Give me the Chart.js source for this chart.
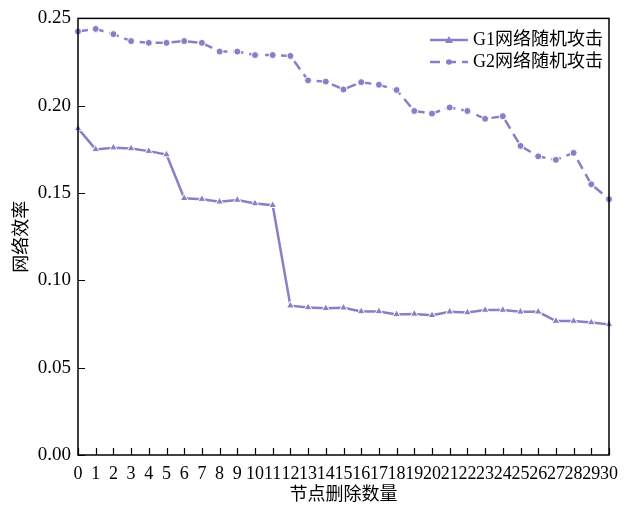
<!DOCTYPE html>
<html>
<head>
<meta charset="utf-8">
<script src="https://cdn.jsdelivr.net/npm/chart.js@4.4.1/dist/chart.umd.min.js"></script>
<style>
  html, body { margin: 0; padding: 0; background: #fff; }
  #wrap { width: 626px; height: 508px; }
</style>
</head>
<body>
<div id="wrap"><canvas id="grafico"></canvas></div>
<script>
// datos del gráfico
const etiquetas = Array.from({ length: 31 }, (_, i) => String(i));
const g1 = [0.187, 0.175, 0.176, 0.1755, 0.174, 0.172, 0.147, 0.1465, 0.145, 0.146, 0.144, 0.143,
            0.0855, 0.0845, 0.084, 0.0843, 0.0822, 0.0822, 0.0805, 0.0808, 0.080, 0.082, 0.0816,
            0.083, 0.083, 0.082, 0.082, 0.0767, 0.0767, 0.0759, 0.0748];
const g2 = [0.2425, 0.244, 0.241, 0.237, 0.236, 0.236, 0.237, 0.236, 0.231, 0.231, 0.229, 0.229,
            0.2285, 0.2145, 0.2138, 0.2093, 0.2135, 0.212, 0.209, 0.197, 0.1955, 0.199, 0.197,
            0.1925, 0.194, 0.177, 0.171, 0.169, 0.173, 0.155, 0.1465];
const ticksY = [0, 0.05, 0.10, 0.15, 0.20, 0.25];
const nombres = ["G1网络随机攻击", "G2网络随机攻击"];

const color = "#8a7fc6";
const fuente = '"Liberation Serif", "Noto Sans CJK SC", serif';

// marco, ticks hacia dentro y leyenda
const marcoPlugin = {
    id: "marco",
    afterDraw(chart) {
        const ctx = chart.ctx;
        const a = chart.chartArea;
        const x = chart.scales.x, y = chart.scales.y;
        ctx.save();
        ctx.strokeStyle = "#000";
        ctx.lineWidth = 1.5;
        ctx.strokeRect(a.left, a.top, a.right - a.left, a.bottom - a.top);
        ctx.lineWidth = 1.2;
        ctx.beginPath();
        x.ticks.forEach((t, i) => {
            const px = Math.round(x.getPixelForTick(i)) + 0.5;
            ctx.moveTo(px, a.bottom);
            ctx.lineTo(px, a.bottom - 7);
        });
        y.ticks.forEach((t, i) => {
            const py = Math.round(y.getPixelForTick(i)) + 0.5;
            ctx.moveTo(a.left, py);
            ctx.lineTo(a.left + 7, py);
        });
        ctx.stroke();

        // leyenda
        const lx = 430, ly = [40, 62];
        chart.data.datasets.forEach((ds, i) => {
            ctx.strokeStyle = color;
            ctx.lineWidth = 2.5;
            ctx.setLineDash(ds.borderDash || []);
            ctx.beginPath();
            ctx.moveTo(lx, ly[i]);
            ctx.lineTo(lx + 38, ly[i]);
            ctx.stroke();
            ctx.setLineDash([]);
            ctx.fillStyle = color;
            ctx.beginPath();
            if (ds.pointStyle === "triangle") {
                ctx.moveTo(lx + 19, ly[i] - 4);
                ctx.lineTo(lx + 23, ly[i] + 3);
                ctx.lineTo(lx + 15, ly[i] + 3);
                ctx.closePath();
            } else {
                ctx.arc(lx + 19, ly[i], 2.8, 0, Math.PI * 2);
            }
            ctx.fill();
            ctx.fillStyle = "#000";
            ctx.font = "18px " + fuente;
            ctx.textBaseline = "middle";
            ctx.textAlign = "left";
            ctx.fillText(ds.label, lx + 43, ly[i]);
        });
        ctx.restore();
    }
};

new Chart(document.getElementById("grafico").getContext("2d"), {
    type: "line",
    data: {
        labels: etiquetas,
        datasets: [{
            label: nombres[0],
            data: g1,
            borderColor: color,
            backgroundColor: color,
            borderWidth: 2.5,
            pointStyle: "triangle",
            pointRadius: 4.5,
            pointBorderColor: "#fff",
            pointBorderWidth: 1,
            pointBackgroundColor: color,
            tension: 0
        }, {
            label: nombres[1],
            data: g2,
            borderColor: color,
            backgroundColor: color,
            borderWidth: 2.5,
            borderDash: [10, 6],
            pointStyle: "circle",
            pointRadius: 3.5,
            pointBorderColor: "#fff",
            pointBorderWidth: 1,
            pointBackgroundColor: color,
            tension: 0
        }]
    },
    options: {
        responsive: true,
        maintainAspectRatio: false,
        animation: false,
        layout: { padding: { left: 0, right: 10, top: 14, bottom: 2 } },
        plugins: { legend: { display: false }, tooltip: { enabled: false } },
        scales: {
            x: {
                type: "category",
                offset: false,
                grid: { display: false, drawTicks: false },
                border: { display: false },
                ticks: {
                    autoSkip: false, maxRotation: 0, minRotation: 0, padding: 8,
                    color: "#000", font: { family: fuente, size: 18 }
                },
                title: {
                    display: true, text: "节点删除数量", color: "#000",
                    font: { family: fuente, size: 18 }, padding: { top: 0, bottom: 0 }
                },
                afterFit(scale) { scale.height = 51; }
            },
            y: {
                min: 0, max: 0.25,
                afterBuildTicks(scale) { scale.ticks = ticksY.map(v => ({ value: v })); },
                grid: { display: false, drawTicks: false },
                border: { display: false },
                ticks: {
                    padding: 7, color: "#000", font: { family: fuente, size: 19 },
                    callback: v => Number(v).toFixed(2)
                },
                title: {
                    display: true, text: "网络效率", color: "#000",
                    font: { family: fuente, size: 18 }, padding: { top: 11, bottom: 0 }
                },
                afterFit(scale) { scale.width = 78; }
            }
        }
    },
    plugins: [marcoPlugin]
});
</script>
</body>
</html>
